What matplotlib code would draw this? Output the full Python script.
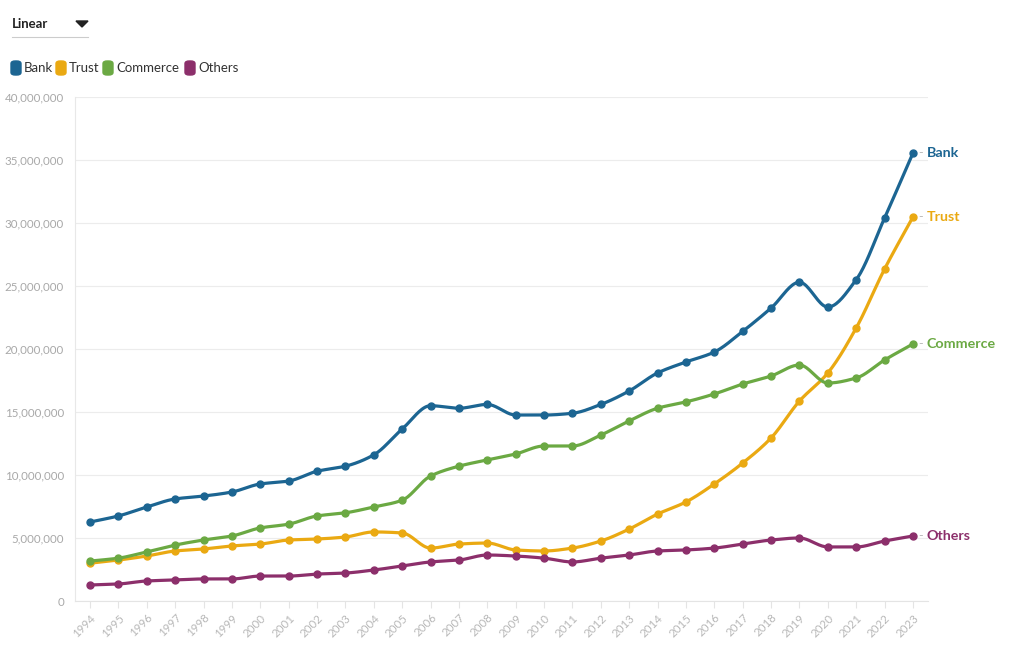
import numpy as np
import matplotlib
matplotlib.use("Agg")
import matplotlib.pyplot as plt
from matplotlib.patches import FancyBboxPatch, Polygon
from matplotlib.ticker import FuncFormatter

plt.rcParams['font.family'] = ['Lato', 'DejaVu Sans']

years = list(range(1994, 2024))
bank = [6.27, 6.75, 7.46, 8.1, 8.33, 8.65, 9.29, 9.52, 10.3, 10.7, 11.6, 13.65, 15.5, 15.3, 15.6,
        14.76, 14.76, 14.9, 15.6, 16.67, 18.1, 18.97, 19.76, 21.4, 23.25, 25.3, 23.33, 25.5, 30.4, 35.55]
trust = [3.0, 3.25, 3.57, 3.97, 4.13, 4.37, 4.52, 4.84, 4.92, 5.08, 5.48, 5.4, 4.2, 4.52, 4.6,
         4.05, 3.97, 4.2, 4.76, 5.71, 6.9, 7.86, 9.29, 10.95, 12.94, 15.87, 18.1, 21.67, 26.35, 30.48]
commerce = [3.17, 3.4, 3.9, 4.44, 4.84, 5.16, 5.8, 6.1, 6.75, 7.0, 7.46, 8.0, 9.92, 10.7, 11.2,
            11.67, 12.3, 12.3, 13.17, 14.29, 15.3, 15.8, 16.43, 17.22, 17.86, 18.73, 17.3, 17.7, 19.13, 20.4]
others = [1.27, 1.35, 1.59, 1.67, 1.75, 1.75, 1.98, 1.98, 2.14, 2.22, 2.46, 2.78, 3.1, 3.25, 3.65,
          3.57, 3.4, 3.1, 3.4, 3.65, 3.97, 4.05, 4.2, 4.52, 4.84, 5.0, 4.29, 4.29, 4.76, 5.16]

series_names = ["Bank", "Trust", "Commerce", "Others"]
series_vals = [bank, trust, commerce, others]
colors = ["#1c6592", "#eaa912", "#6ba943", "#8c2f6b"]
y_ticks = [0, 5e6, 10e6, 15e6, 20e6, 25e6, 30e6, 35e6, 40e6]


def monotone(x, y, n=20):
    x = np.asarray(x, float); y = np.asarray(y, float)
    h = np.diff(x); d = np.diff(y) / h
    m = np.zeros_like(y)
    m[0] = d[0]; m[-1] = d[-1]
    for i in range(1, len(y) - 1):
        if d[i - 1] * d[i] <= 0:
            m[i] = 0
        else:
            w1 = 2 * h[i] + h[i - 1]; w2 = h[i] + 2 * h[i - 1]
            m[i] = (w1 + w2) / (w1 / d[i - 1] + w2 / d[i])
    xs, ys = [], []
    for i in range(len(x) - 1):
        t = np.linspace(0, 1, n, endpoint=False)
        h00 = 2 * t**3 - 3 * t**2 + 1; h10 = t**3 - 2 * t**2 + t
        h01 = -2 * t**3 + 3 * t**2; h11 = t**3 - t**2
        xs.append(x[i] + t * h[i])
        ys.append(h00 * y[i] + h10 * h[i] * m[i] + h01 * y[i + 1] + h11 * h[i] * m[i + 1])
    xs.append([x[-1]]); ys.append([y[-1]])
    return np.concatenate(xs), np.concatenate(ys)


fig = plt.figure(figsize=(10.2, 6.5), dpi=100)
ax = fig.add_axes([75 / 1020, 49 / 650, 853 / 1020, 504 / 650])

for name, vals, c in zip(series_names, series_vals, colors):
    v = np.array(vals) * 1e6
    sx, sy = monotone(years, v)
    ax.plot(sx, sy, color=c, lw=2.3, solid_capstyle='round', zorder=3)
    ax.plot(years, v, 'o', color=c, ms=5, zorder=4)
    ax.annotate("-", xy=(years[-1], v[-1]), xytext=(4, 0), textcoords='offset points',
                color="#bbbbbb", fontsize=9, va='center', ha='left')
    ax.annotate(name, xy=(years[-1], v[-1]), xytext=(10, 0), textcoords='offset points',
                color=c, fontsize=10.3, fontweight='bold', va='center', ha='left')

ax.set_xlim(1993.47, 2023.53)
ax.set_ylim(0, 40e6)
ax.set_yticks(y_ticks)
ax.yaxis.set_major_formatter(FuncFormatter(lambda v, p: f"{int(v):,}"))
ax.set_xticks(years)
ax.set_xticklabels([str(y) for y in years], rotation=45, ha='right', rotation_mode='anchor')
ax.tick_params(axis='y', length=0, labelsize=8.3, labelcolor='#a8a8a8', pad=8)
ax.tick_params(axis='x', length=5, color='#e4e4e4', labelsize=8.3, labelcolor='#b8b8b8', pad=3)
ax.grid(axis='y', color='#ececec', lw=0.8)
ax.set_axisbelow(True)
for s in ['top', 'right']:
    ax.spines[s].set_visible(False)
ax.spines['left'].set_color('#e8e8e8')
ax.spines['bottom'].set_color('#e4e4e4')

# Dropdown control
fig.text(12 / 1020, 1 - 24 / 650, "Linear", fontsize=9.5, fontweight='bold', color='#222222', va='center')
fig.add_artist(Polygon([[76 / 1020, 1 - 21 / 650], [88 / 1020, 1 - 21 / 650], [82 / 1020, 1 - 27 / 650]],
                       closed=True, color='#222222', transform=fig.transFigure))
fig.add_artist(plt.Line2D([12 / 1020, 88 / 1020], [1 - 37 / 650, 1 - 37 / 650], color='#cccccc', lw=0.8,
                          transform=fig.transFigure))

# Legend
lx = 11
widths = {"Bank": 29, "Trust": 31, "Commerce": 66, "Others": 42}
for name, c in zip(series_names, colors):
    fig.add_artist(FancyBboxPatch((lx / 1020, 1 - 75 / 650), 10 / 1020, 14 / 650,
                                  boxstyle="round,pad=0,rounding_size=0.004", color=c,
                                  transform=fig.transFigure))
    fig.text((lx + 13) / 1020, 1 - 68 / 650, name, fontsize=9.5, color='#333333', va='center')
    lx += 13 + widths[name] + 3

fig.savefig("out.png", dpi=100)
